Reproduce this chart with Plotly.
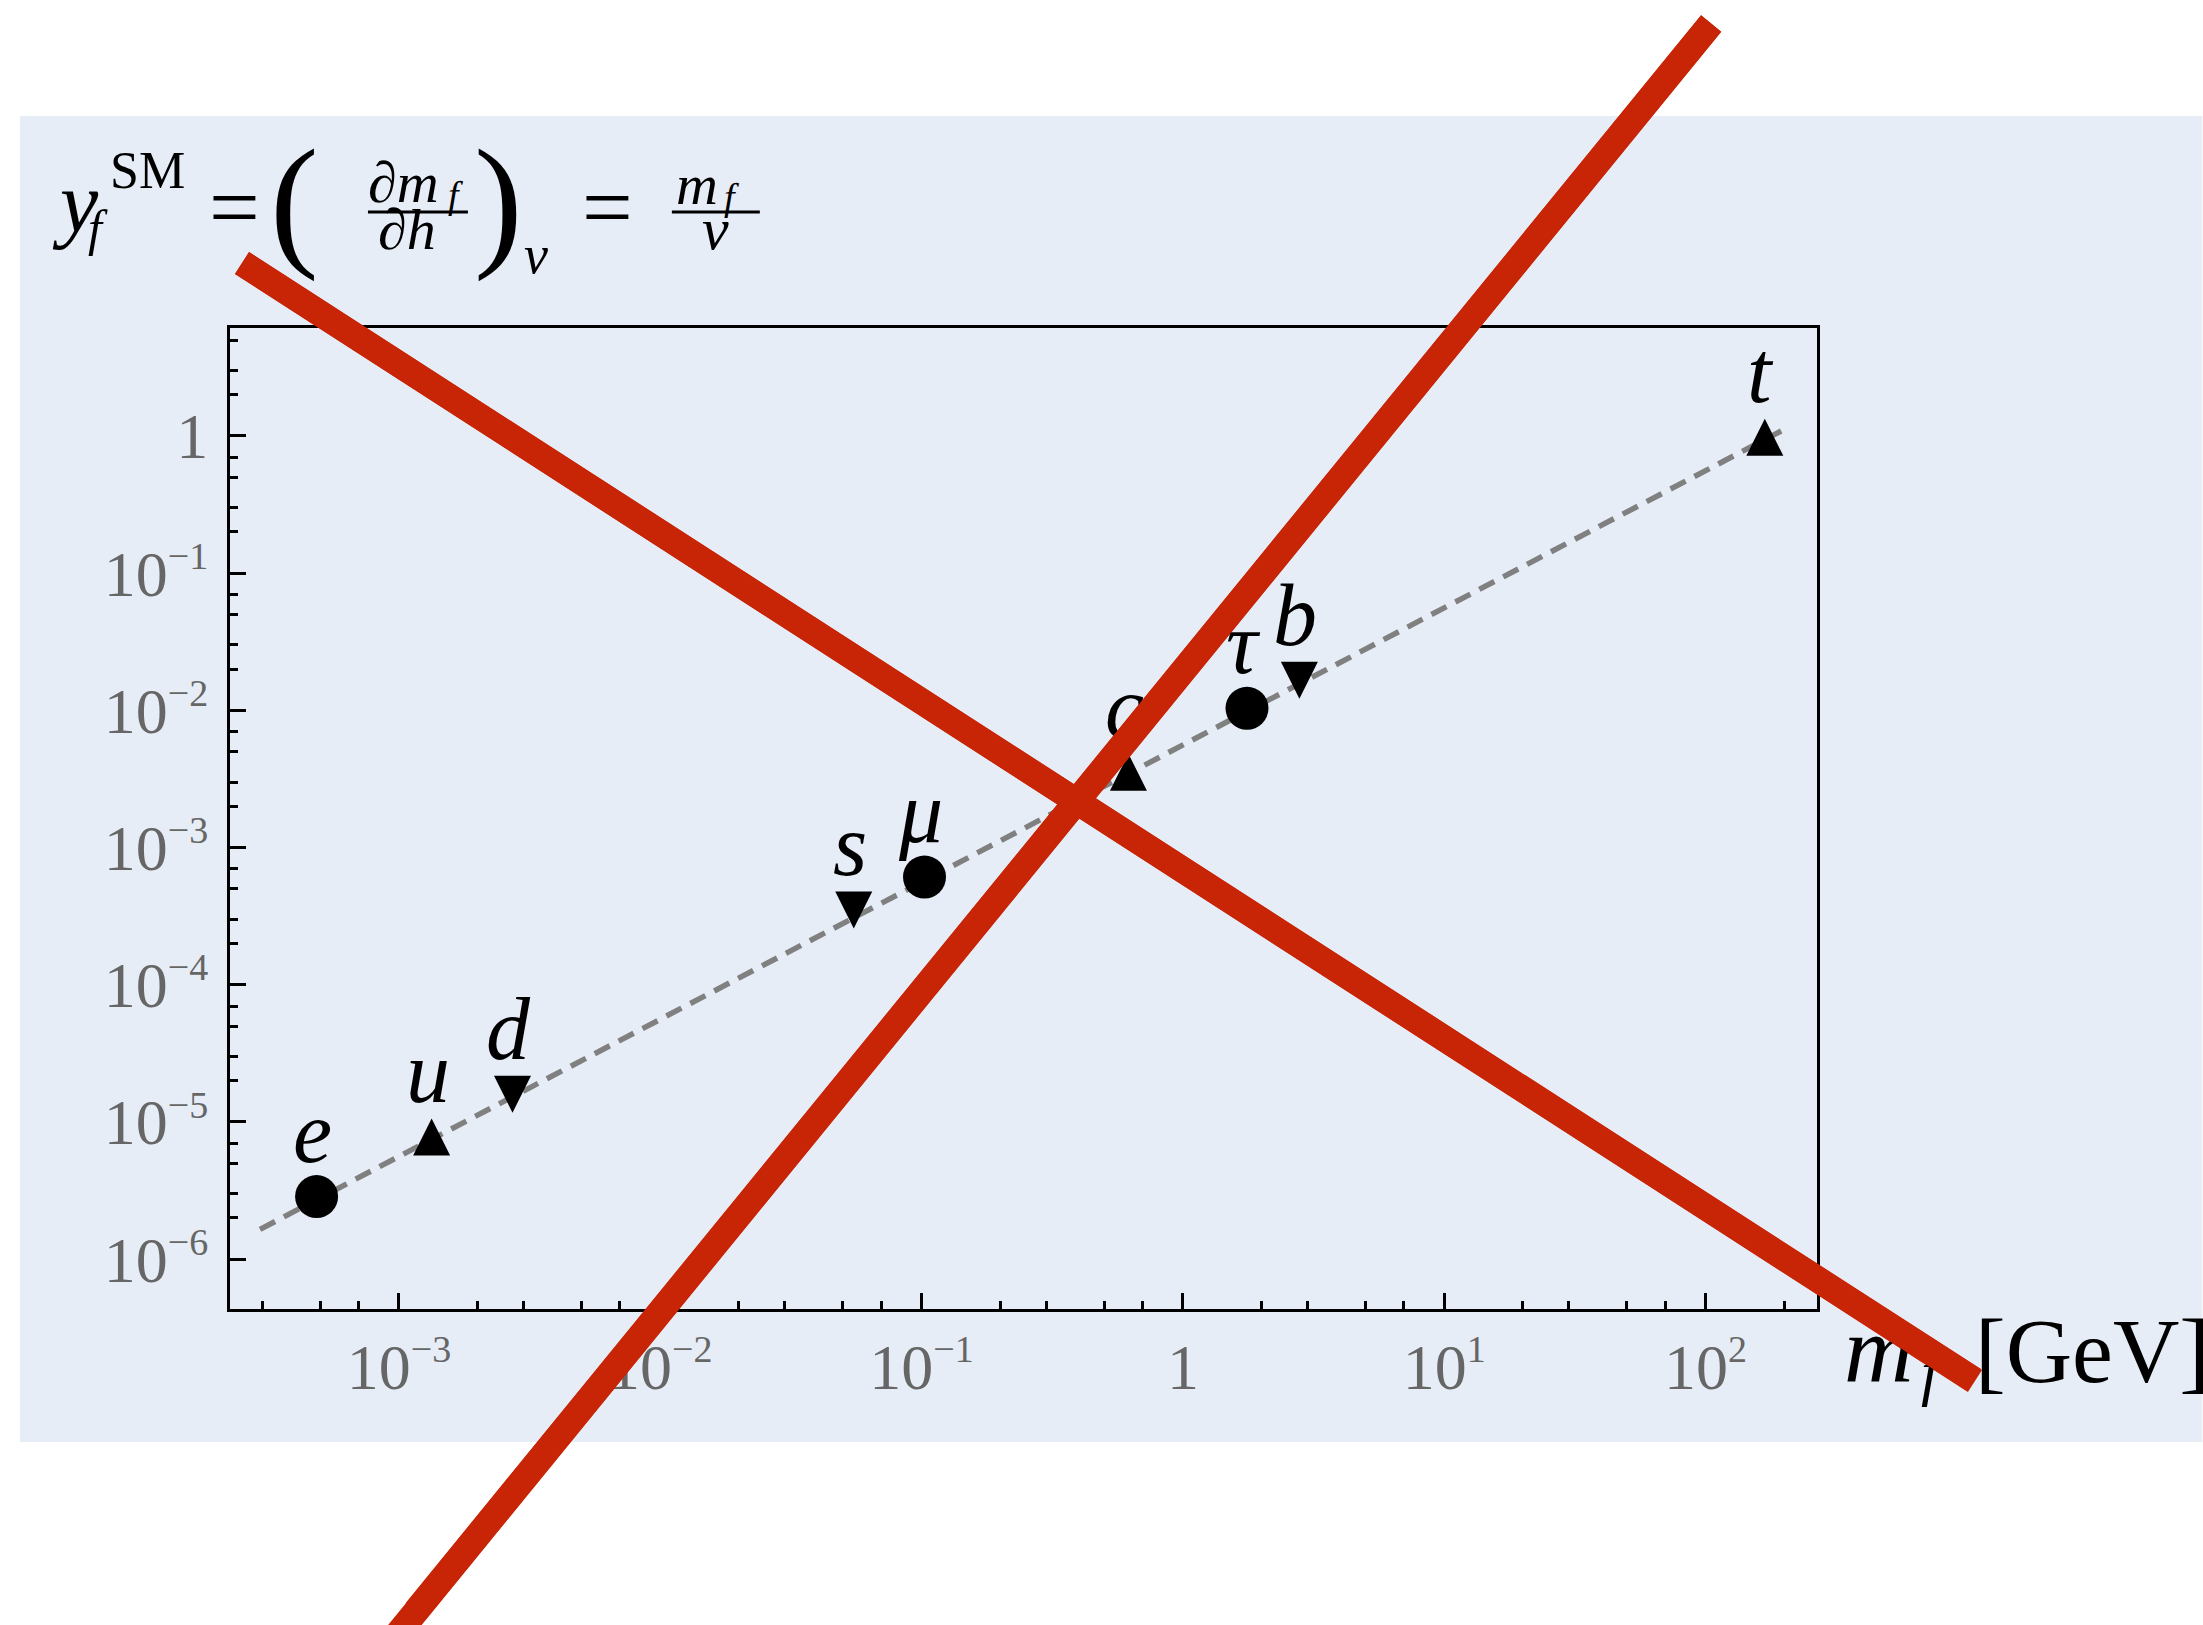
import numpy as np
import plotly.graph_objects as go

# Fermion masses m_f [GeV] and SM Yukawa couplings y_f
fermions = ["e", "u", "d", "s", "μ", "c", "τ", "b", "t"]
mass_gev = [4.84e-4, 1.334e-3, 2.72e-3, 0.0550, 0.1026, 0.619, 1.759, 2.79, 168.6]
yukawa = [2.86e-6, 7.78e-6, 1.59e-5, 3.51e-4, 6.10e-4, 3.54e-3, 1.036e-2, 1.657e-2, 0.978]
kind = ["lepton", "up", "down", "down", "lepton", "up", "lepton", "down", "up"]

# dashed reference line y_f = m_f / v
line_m = [2.94e-4, 200.5]
line_y = [1.65e-6, 1.12]

x_tickvals = [1e-3, 1e-2, 1e-1, 1, 10, 100]
x_exponents = ["−3", "−2", "−1", None, "1", "2"]
y_tickvals = [1e-6, 1e-5, 1e-4, 1e-3, 1e-2, 1e-1, 1]
y_exponents = ["−6", "−5", "−4", "−3", "−2", "−1", None]
x_range = [-3.6465, 2.4265]
y_range = [-6.363, 0.787]
minor_mantissas = [2, 3, 5, 7]

x_minor = [m * 10.0 ** k for k in range(-4, 3) for m in minor_mantissas
           if x_range[0] < np.log10(m * 10.0 ** k) < x_range[1]]
y_minor = [m * 10.0 ** k for k in range(-6, 1) for m in minor_mantissas
           if np.log10(m * 10.0 ** k) < y_range[1]]


def power_label(exp):
    # "1" or 10 with a small raised exponent
    if exp is None:
        return "1"
    return f"10<sup><span style='font-size:38px'>{exp}</span></sup>"


x_ticktext = [power_label(e) for e in x_exponents]
y_ticktext = [power_label(e) for e in y_exponents]

W, H = 2203, 1625
L, R, T, B = 230, 1817.5, 328, 1309
SERIF = "Liberation Serif, Times New Roman, serif"
RED = "#c82506"


def px(X):
    return (X - L) / (R - L)


def py(Y):
    return (B - Y) / (B - T)


fig = go.Figure()

fig.add_trace(go.Scatter(x=line_m, y=line_y, mode="lines",
                         line=dict(color="#808080", width=5.5, dash="17px,10px"),
                         hoverinfo="skip"))

# circles for leptons, up/down triangles for up-/down-type quarks
styles = {
    "lepton": dict(symbol="circle", size=43, angle=0, standoff=0),
    "up": dict(symbol="arrow-down", size=37, angle=180, standoff=18.5),
    "down": dict(symbol="arrow-down", size=37, angle=0, standoff=18.5),
}
for k, st in styles.items():
    idx = [i for i, kk in enumerate(kind) if kk == k]
    fig.add_trace(go.Scatter(
        x=[mass_gev[i] for i in idx], y=[yukawa[i] for i in idx], mode="markers",
        marker=dict(color="black", line=dict(width=0), **st),
        hovertext=[fermions[i] for i in idx], hoverinfo="text"))

annotations = []
# fermion labels above each marker
for name, m, yv in zip(fermions, mass_gev, yukawa):
    annotations.append(dict(
        x=np.log10(m), y=np.log10(yv), xref="x", yref="y",
        text=f"<i>{name}</i>", showarrow=False, xanchor="center", yanchor="bottom",
        xshift=-4, yshift=14, font=dict(family=SERIF, size=88, color="black")))


def note(text, X, Yb, F, color="black"):
    # place text so its baseline sits at pixel row Yb, starting at column X
    annotations.append(dict(
        x=px(X), y=py(Yb - 0.3375 * F), xref="paper", yref="paper",
        text=text, showarrow=False, xanchor="left", yanchor="middle",
        font=dict(family=SERIF, size=F, color=color)))


# y_f^SM = (∂m_f/∂h)_v = m_f/v
note("<i>y</i>", 50, 231, 86)
note("SM", 108, 188, 52)
note("<i>f</i>", 86, 245, 50)
note("=", 207, 238, 90)
note("(", 268, 250, 146)
note("∂<i>m</i>", 366, 202, 58)
note("<i>f</i>", 446, 208, 38)
note("∂<i>h</i>", 376, 249, 58)
note(")", 472, 250, 146)
note("<i>v</i>", 522, 273, 54)
note("=", 580, 238, 90)
note("<i>m</i>", 674, 204, 58)
note("<i>f</i>", 722, 210, 38)
note("<i>v</i>", 700, 249, 60)

# axis label m_f [GeV]
note("<i>m</i>", 1843, 1382, 96)
note("<i>f</i>", 1920, 1393, 64)
note("[GeV]", 1974, 1382, 92)

shapes = [
    # background panel
    dict(type="rect", xref="paper", yref="paper", layer="below",
         x0=px(20), x1=px(2203), y0=py(1442), y1=py(116),
         line=dict(width=0), fillcolor="#e7edf7"),
    # fraction bars
    dict(type="line", xref="paper", yref="paper", x0=px(368), x1=px(468),
         y0=py(212), y1=py(212), line=dict(color="black", width=3)),
    dict(type="line", xref="paper", yref="paper", x0=px(672), x1=px(760),
         y0=py(212), y1=py(212), line=dict(color="black", width=3)),
]

# two thick red strokes across the figure: full length as shapes,
# plus arrow-less annotation strokes so they also cover the text labels
strokes = [((242, 263), (1975.5, 1381)), ((1711.6, 23.5), (376.4, 1660))]
for (x0, y0), (x1, y1) in strokes:
    shapes.append(dict(type="line", xref="paper", yref="paper", layer="above",
                       x0=px(x0), y0=py(y0), x1=px(x1), y1=py(y1),
                       line=dict(color=RED, width=26)))
    if y1 > H:
        t = (H - 12 - y0) / (y1 - y0)
        x1, y1 = x0 + t * (x1 - x0), y0 + t * (y1 - y0)
    annotations.append(dict(
        x=px(x0), y=py(y0), xref="paper", yref="paper", text=" ",
        font=dict(size=1), showarrow=True, arrowhead=0, arrowwidth=26,
        arrowcolor=RED, ax=x1 - x0, ay=y1 - y0, axref="pixel", ayref="pixel",
        standoff=0, startstandoff=0))

axis_common = dict(
    type="log", showline=True, linecolor="black", linewidth=3, mirror=True,
    ticks="inside", ticklen=16, tickwidth=3, tickcolor="black",
    showgrid=False, zeroline=False,
    tickfont=dict(family=SERIF, size=64, color="#666666"),
)

fig.update_xaxes(range=x_range, tickmode="array", tickvals=x_tickvals, ticktext=x_ticktext,
                 minor=dict(tickmode="array", tickvals=x_minor, ticks="inside", ticklen=8,
                            tickwidth=3, tickcolor="black", showgrid=False),
                 **axis_common)
fig.update_yaxes(range=y_range, tickmode="array", tickvals=y_tickvals, ticktext=y_ticktext,
                 ticklabelstandoff=6,
                 minor=dict(tickmode="array", tickvals=y_minor, ticks="inside", ticklen=8,
                            tickwidth=3, tickcolor="black", showgrid=False),
                 **axis_common)

fig.update_layout(
    width=W, height=H, autosize=False,
    margin=dict(l=L, r=W - R, t=T, b=H - B, pad=0),
    paper_bgcolor="white", plot_bgcolor="rgba(0,0,0,0)",
    showlegend=False, annotations=annotations, shapes=shapes,
)

fig.write_html("out.html")
